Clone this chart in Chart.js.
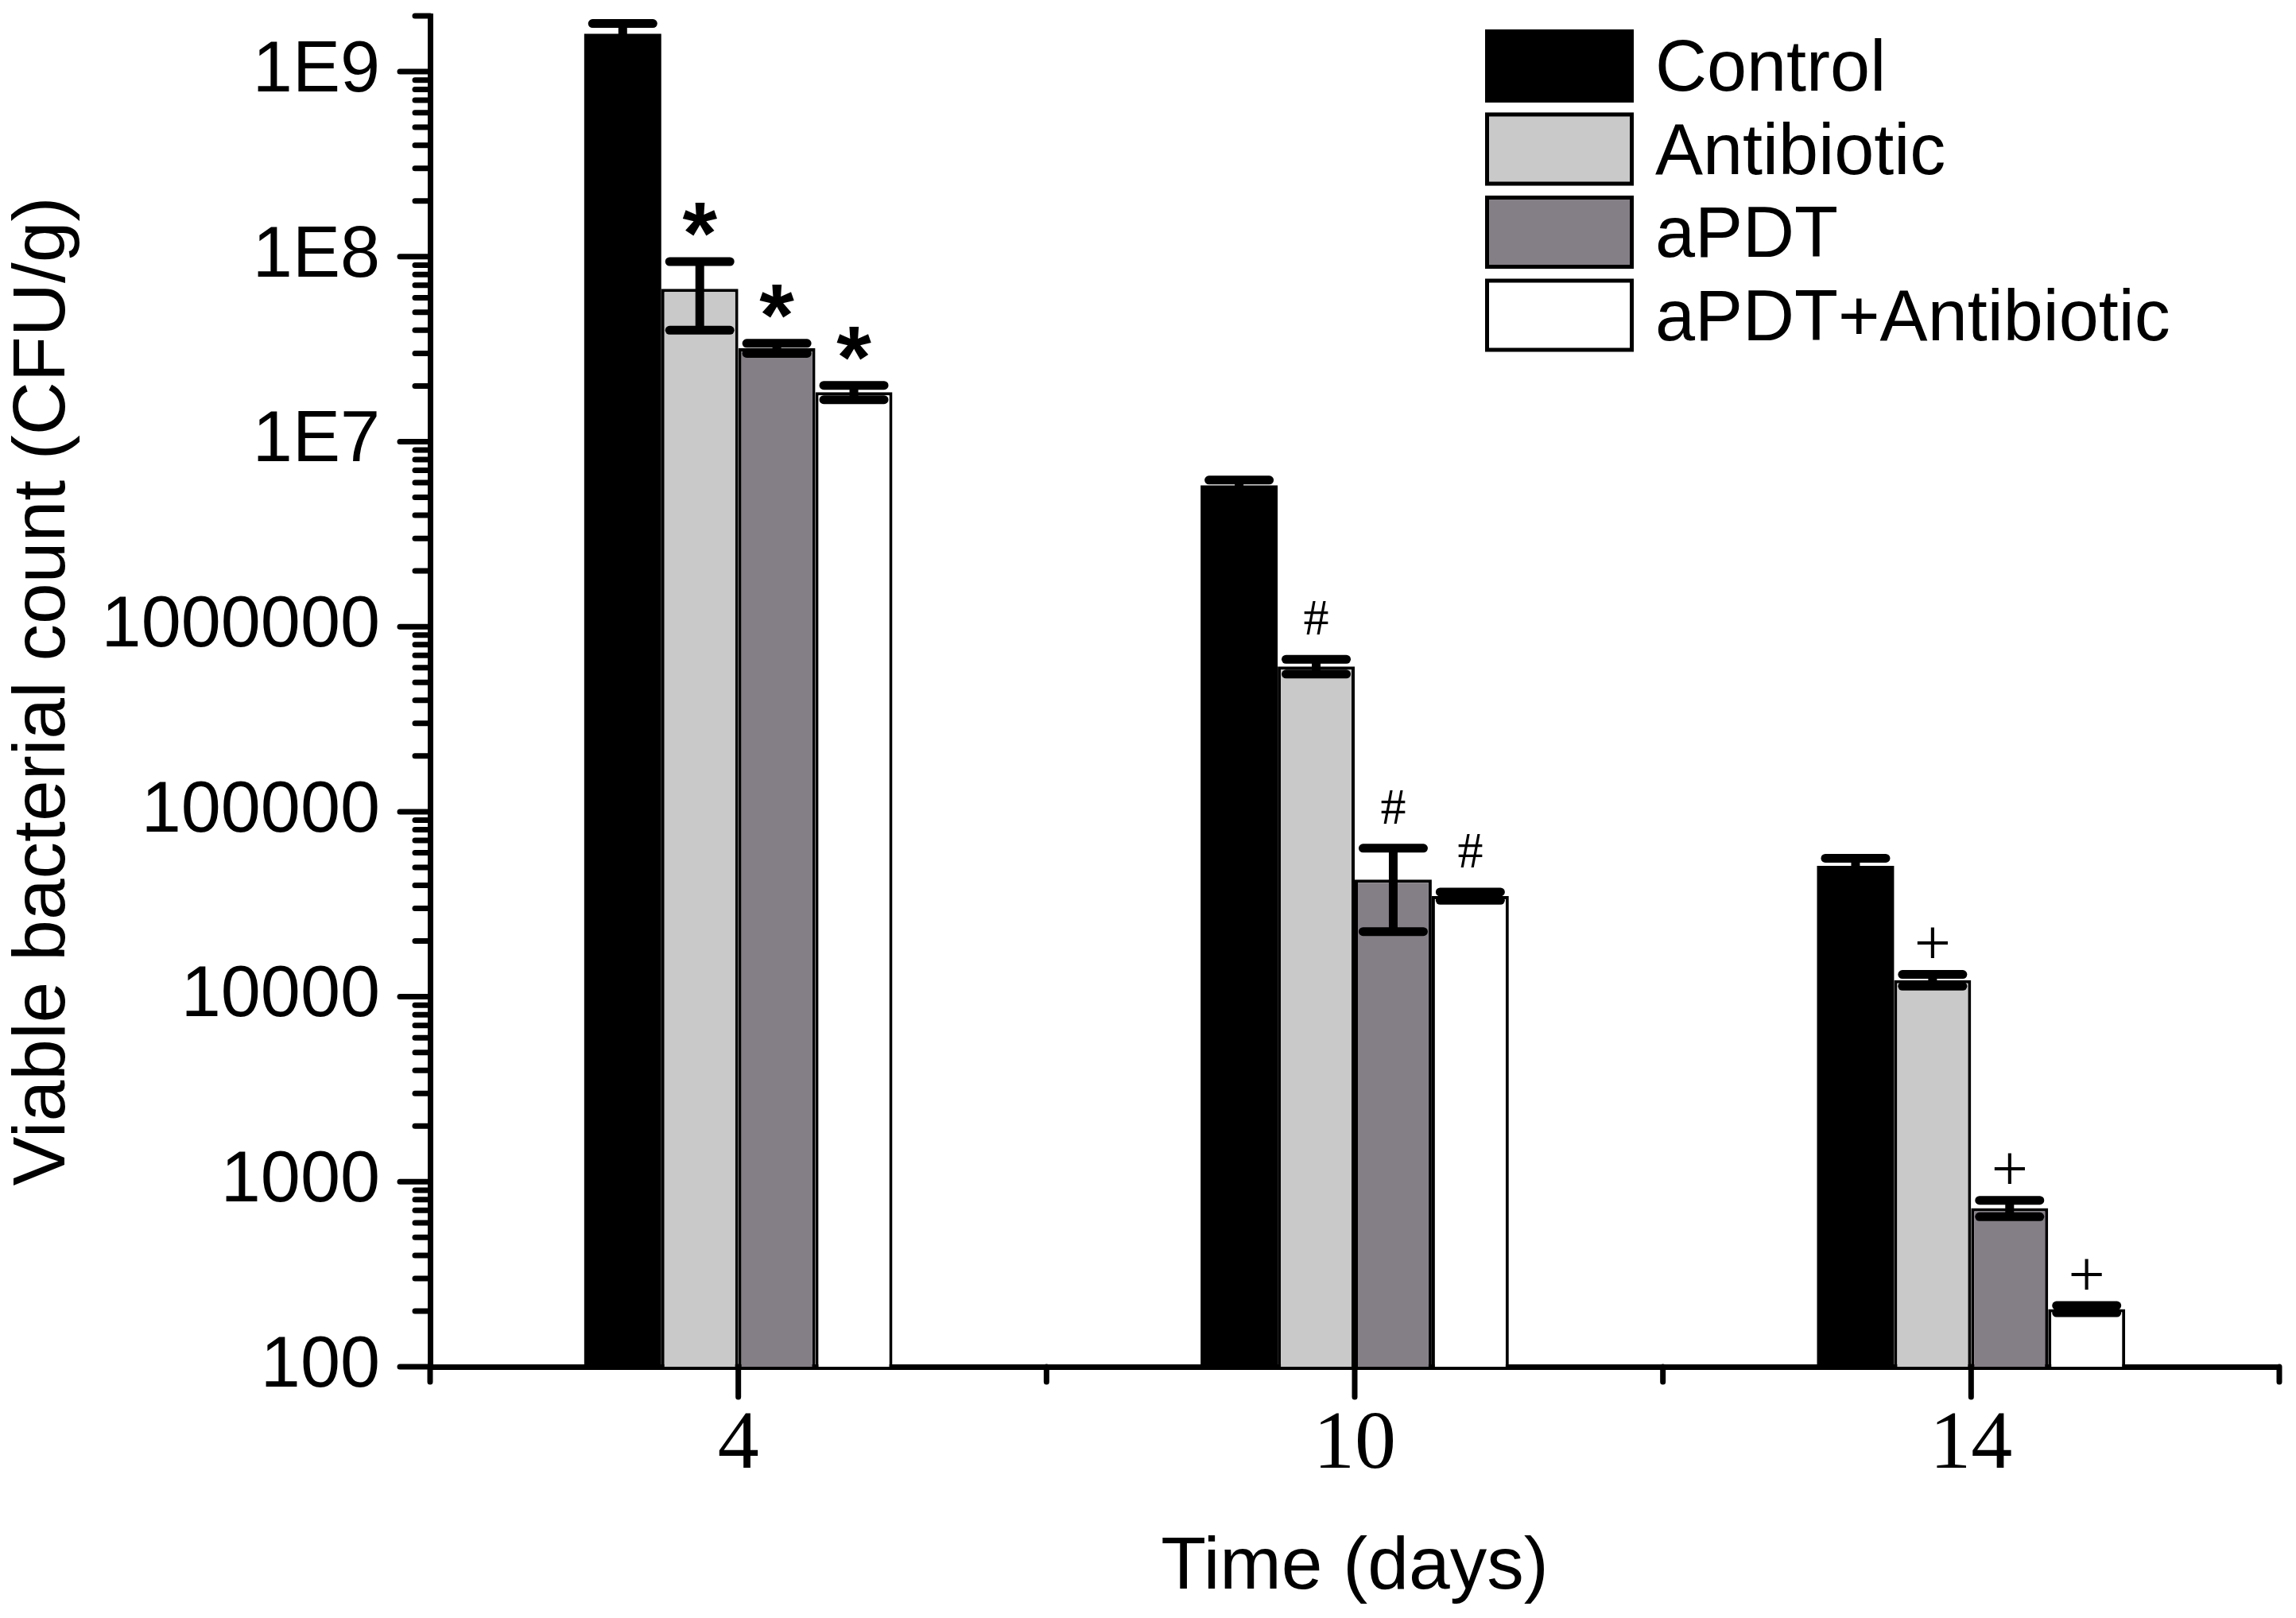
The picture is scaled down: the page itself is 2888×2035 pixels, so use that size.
<!DOCTYPE html>
<html><head><meta charset="utf-8">
<script src="https://cdn.jsdelivr.net/npm/chart.js@4.4.1/dist/chart.umd.min.js"></script>
<style>html,body{margin:0;padding:0;background:#fff}canvas{display:block}</style>
</head><body>
<canvas id="c" width="2888" height="2035" style="width:2888px;height:2035px"></canvas>
<script>
// ---- data ----
const days = ['4', '10', '14'];
const seriesNames = ['Control', 'Antibiotic', 'aPDT', 'aPDT+Antibiotic'];
const control       = [1.6e9, 5.8e6, 5.1e4];
const controlErr    = [2.2e8, 4.0e5, 5.0e3];
const antibiotic    = [6.7e7, 6.1e5, 1.23e4];
const antibioticErr = [2.7e7, 5.6e4, 9.0e2];
const apdt          = [3.2e7, 4.3e4, 720];
const apdtErr       = [2.0e6, 2.05e4, 73];
const combo         = [1.85e7, 3.5e4, 205];
const comboErr      = [1.65e6, 1.8e3, 9];
const marks = ['*', '#', '+'];            // significance mark per day (treated groups)
const yMajor  = [1e2, 1e3, 1e4, 1e5, 1e6, 1e7, 1e8, 1e9];
const yLabels = ['100', '1000', '10000', '100000', '1000000', '1E7', '1E8', '1E9'];
const yMin = 100, yMax = 2e9;

const colors = ['#000000', '#c8c9c8', '#847f86', '#ffffff'];

// all tick values (majors + minors 2..9)
const yTickValues = [];
yMajor.forEach(m => {
  for (let k = 1; k <= 9; k++) {
    const v = Math.round(m * k);
    if (v >= yMin && v <= yMax) yTickValues.push(v);
  }
});
const labelOf = v => { const i = yMajor.indexOf(v); return i >= 0 ? yLabels[i] : ''; };
const isMajor = v => yMajor.indexOf(v) >= 0;

const deco = {
  id: 'deco',
  afterDatasetsDraw(chart) {
    const ctx = chart.ctx, y = chart.scales.y;
    ctx.save();
    ctx.strokeStyle = '#000'; ctx.fillStyle = '#000';
    chart.data.datasets.forEach((ds, i) => {
      const meta = chart.getDatasetMeta(i);
      meta.data.forEach((bar, j) => {
        const v = ds.data[j], e = ds.errors[j];
        const yt = y.getPixelForValue(v + e), yb = y.getPixelForValue(v - e);
        ctx.lineWidth = 11; ctx.lineCap = 'butt';
        ctx.beginPath(); ctx.moveTo(bar.x, yt); ctx.lineTo(bar.x, yb); ctx.stroke();
        ctx.lineCap = 'round';
        [yt, yb].forEach(py => {
          ctx.beginPath(); ctx.moveTo(bar.x - 38, py); ctx.lineTo(bar.x + 38, py); ctx.stroke();
        });
        if (ds.marks) {
          const s = ds.marks[j];
          let font, off;
          if (s === '*') { font = 'bold 112px "Liberation Sans"'; off = 53; }
          else if (s === '#') { font = '64px "Liberation Serif"'; off = 52; }
          else { font = '82px "Liberation Serif"'; off = 40; }
          ctx.font = font; ctx.textAlign = 'center'; ctx.textBaseline = 'alphabetic';
          const m = ctx.measureText(s);
          const cy = yt - off;
          const by = cy - (m.actualBoundingBoxDescent - m.actualBoundingBoxAscent) / 2;
          ctx.fillText(s, bar.x, by);
        }
      });
    });
    ctx.restore();
  },
  afterDraw(chart) {
    const ctx = chart.ctx, y = chart.scales.y, x = chart.scales.x, ca = chart.chartArea;
    ctx.save();
    ctx.strokeStyle = '#000'; ctx.lineWidth = 7; ctx.lineCap = 'round';
    // y ticks
    y.ticks.forEach(t => {
      const py = y.getPixelForValue(t.value);
      const len = isMajor(t.value) ? 38 : 19;
      ctx.beginPath(); ctx.moveTo(ca.left - len, py); ctx.lineTo(ca.left, py); ctx.stroke();
    });
    // x ticks
    for (let i = 0; i < days.length; i++) {
      const px = x.getPixelForValue(i);
      ctx.beginPath(); ctx.moveTo(px, ca.bottom); ctx.lineTo(px, ca.bottom + 38); ctx.stroke();
    }
    for (let i = 0; i <= days.length; i++) {
      const px = x.getPixelForValue(i - 0.5);
      ctx.beginPath(); ctx.moveTo(px, ca.bottom); ctx.lineTo(px, ca.bottom + 19); ctx.stroke();
    }
    // legend
    const lx = 1868, ly = 37, bw = 187, bh = 92, pitch = 104.5;
    chart.data.datasets.forEach((ds, i) => {
      const top = ly + i * pitch;
      ctx.fillStyle = ds.backgroundColor;
      ctx.fillRect(lx, top, bw, bh);
      ctx.lineWidth = 5; ctx.strokeStyle = '#000'; ctx.lineCap = 'butt';
      ctx.strokeRect(lx + 2.5, top + 2.5, bw - 5, bh - 5);
      ctx.fillStyle = '#000';
      ctx.font = '90px "Liberation Sans"';
      ctx.textAlign = 'left'; ctx.textBaseline = 'alphabetic';
      ctx.fillText(ds.label, 2082, top + bh / 2 + 31);
    });
    ctx.restore();
  }
};

const errs = [controlErr, antibioticErr, apdtErr, comboErr];
const vals = [control, antibiotic, apdt, combo];

new Chart(document.getElementById('c'), {
  type: 'bar',
  data: {
    labels: days,
    datasets: seriesNames.map((n, i) => ({
      label: n,
      data: vals[i],
      errors: errs[i],
      marks: i === 0 ? null : marks,
      backgroundColor: colors[i],
      borderColor: '#000',
      borderWidth: i === 0 ? 0 : 4,
      borderSkipped: 'start',
      barPercentage: 1,
      categoryPercentage: 0.5
    }))
  },
  options: {
    responsive: false,
    devicePixelRatio: 1,
    animation: false,
    layout: { padding: { top: 20, right: 21, left: 0, bottom: 0 } },
    plugins: { legend: { display: false }, tooltip: { enabled: false } },
    scales: {
      x: {
        type: 'category',
        offset: true,
        z: 1,
        grid: { display: false, drawTicks: false },
        border: { display: true, color: '#000', width: 7 },
        ticks: { color: '#000', padding: 37, font: { family: 'Liberation Serif', size: 104 } },
        title: { display: true, text: 'Time (days)', color: '#000',
                 font: { family: 'Liberation Sans', size: 93 }, padding: { top: 0, bottom: 7 } },
        afterFit(s) { s.height = 316; s.paddingLeft = 0; s.paddingRight = 0; }
      },
      y: {
        type: 'logarithmic',
        min: yMin, max: yMax,
        z: 1,
        grid: { display: false, drawTicks: false },
        border: { display: true, color: '#000', width: 7 },
        afterBuildTicks(s) { s.ticks = yTickValues.map(v => ({ value: v, major: isMajor(v) })); },
        ticks: { autoSkip: false, color: '#000', padding: 63,
                 font: { family: 'Liberation Sans', size: 90 },
                 callback: v => labelOf(v) },
        title: { display: true, text: 'Viable bacterial count (CFU/g)', color: '#000',
                 font: { family: 'Liberation Sans', size: 93 }, padding: { top: 0, bottom: 0 } },
        afterFit(s) { s.width = 541; s.paddingTop = 0; s.paddingBottom = 0; }
      }
    }
  },
  plugins: [deco]
});
</script>
</body></html>
